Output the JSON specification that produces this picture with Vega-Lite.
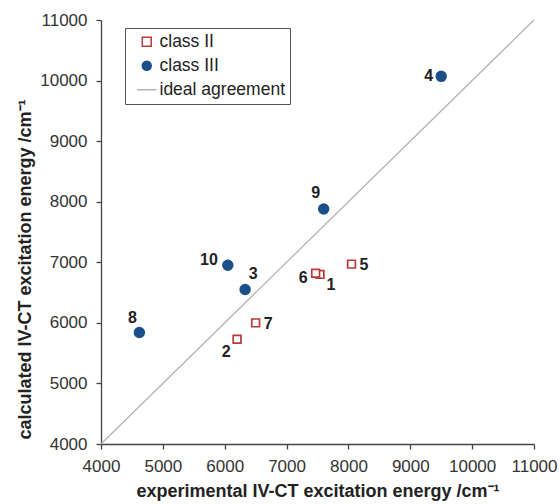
{
  "$schema": "https://vega.github.io/schema/vega-lite/v6.json",
  "width": 433,
  "height": 424,
  "autosize": {"type": "none"},
  "padding": {"left": 101, "top": 20, "right": 26, "bottom": 60},
  "background": "white",
  "config": {
    "view": {"stroke": null},
    "font": "Liberation Sans",
    "axis": {"grid": false, "domainColor": "#444", "tickColor": "#444", "labelColor": "#333", "titleColor": "#222", "labelFontSize": 17, "titleFontSize": 18, "titleFontWeight": "bold", "tickSize": 5, "domainWidth": 1.3, "tickWidth": 1.3, "labelFlush": false, "labelOverlap": false, "labelPadding": 9}
  },
  "datasets": {
    "pts": [
      {"id": "1", "series": "class II", "x": 7540, "y": 6800},
      {"id": "2", "series": "class II", "x": 6200, "y": 5730},
      {"id": "3", "series": "class III", "x": 6330, "y": 6550},
      {"id": "4", "series": "class III", "x": 9500, "y": 10070},
      {"id": "5", "series": "class II", "x": 8050, "y": 6970},
      {"id": "6", "series": "class II", "x": 7470, "y": 6820},
      {"id": "7", "series": "class II", "x": 6500, "y": 6000},
      {"id": "8", "series": "class III", "x": 4620, "y": 5840},
      {"id": "9", "series": "class III", "x": 7600, "y": 7880},
      {"id": "10", "series": "class III", "x": 6050, "y": 6950}
    ],
    "ideal": [
      {"x": 4000, "y": 4000},
      {"x": 11000, "y": 11000}
    ]
  },
  "layer": [
    {
      "data": {"name": "ideal"},
      "mark": {"type": "line", "color": "#b4b4b4", "strokeWidth": 1.3},
      "encoding": {
        "x": {"field": "x", "type": "quantitative", "scale": {"domain": [4000, 11000], "nice": false}, "axis": {"values": [4000,5000,6000,7000,8000,9000,10000,11000], "format": "d", "title": "experimental IV-CT excitation energy /cm⁻¹", "titleY": 52, "titleBaseline": "alphabetic"}},
        "y": {"field": "y", "type": "quantitative", "scale": {"domain": [4000, 11000], "nice": false}, "axis": {"values": [4000,5000,6000,7000,8000,9000,10000,11000], "format": "d", "title": "calculated IV-CT excitation energy  /cm⁻¹", "titleX": -76, "titleY": 249, "titleBaseline": "middle", "titleAlign": "center"}}
      }
    },
    {
      "data": {"name": "pts"},
      "mark": {"type": "point", "strokeWidth": 1.7, "opacity": 1},
      "encoding": {
        "x": {"field": "x", "type": "quantitative"},
        "y": {"field": "y", "type": "quantitative"},
        "shape": {"field": "series", "type": "nominal", "scale": {"domain": ["class II", "class III", "ideal agreement"], "range": ["square", "circle", "M-2.2,0H2.2"]}, "legend": {"title": null, "orient": "none", "legendX": 24, "legendY": 8, "strokeColor": "#555", "padding": 5, "labelFontSize": 17.5, "labelColor": "#222", "symbolSize": 80, "rowPadding": 5, "symbolStrokeWidth": 1.5, "labelOffset": 4, "symbolOffset": 8}},
        "fill": {"field": "series", "type": "nominal", "scale": {"domain": ["class II", "class III", "ideal agreement"], "range": ["white", "#1b4f8a", "transparent"]}},
        "stroke": {"field": "series", "type": "nominal", "scale": {"domain": ["class II", "class III", "ideal agreement"], "range": ["#b83a3a", "#1b4f8a", "#b4b4b4"]}},
        "size": {"condition": {"test": "datum.series === 'class III'", "value": 95}, "value": 60}
      }
    },
    {
      "data": {"name": "pts"},
      "transform": [{"filter": {"field": "id", "oneOf": ["4"]}}],
      "mark": {"type": "text", "align": "right", "baseline": "middle", "dx": -8, "dy": 0, "fontSize": 16, "fontWeight": "bold", "color": "#222"},
      "encoding": {"x": {"field": "x", "type": "quantitative"}, "y": {"field": "y", "type": "quantitative"}, "text": {"field": "id"}}
    },
    {
      "data": {"name": "pts"},
      "transform": [{"filter": {"field": "id", "oneOf": ["10"]}}],
      "mark": {"type": "text", "align": "right", "baseline": "middle", "dx": -10, "dy": -5, "fontSize": 16, "fontWeight": "bold", "color": "#222"},
      "encoding": {"x": {"field": "x", "type": "quantitative"}, "y": {"field": "y", "type": "quantitative"}, "text": {"field": "id"}}
    },
    {
      "data": {"name": "pts"},
      "transform": [{"filter": {"field": "id", "oneOf": ["6"]}}],
      "mark": {"type": "text", "align": "right", "baseline": "middle", "dx": -8, "dy": 5, "fontSize": 16, "fontWeight": "bold", "color": "#222"},
      "encoding": {"x": {"field": "x", "type": "quantitative"}, "y": {"field": "y", "type": "quantitative"}, "text": {"field": "id"}}
    },
    {
      "data": {"name": "pts"},
      "transform": [{"filter": {"field": "id", "oneOf": ["9"]}}],
      "mark": {"type": "text", "align": "center", "baseline": "middle", "dx": -8, "dy": -16, "fontSize": 16, "fontWeight": "bold", "color": "#222"},
      "encoding": {"x": {"field": "x", "type": "quantitative"}, "y": {"field": "y", "type": "quantitative"}, "text": {"field": "id"}}
    },
    {
      "data": {"name": "pts"},
      "transform": [{"filter": {"field": "id", "oneOf": ["8"]}}],
      "mark": {"type": "text", "align": "center", "baseline": "middle", "dx": -7, "dy": -15, "fontSize": 16, "fontWeight": "bold", "color": "#222"},
      "encoding": {"x": {"field": "x", "type": "quantitative"}, "y": {"field": "y", "type": "quantitative"}, "text": {"field": "id"}}
    },
    {
      "data": {"name": "pts"},
      "transform": [{"filter": {"field": "id", "oneOf": ["3"]}}],
      "mark": {"type": "text", "align": "center", "baseline": "middle", "dx": 8, "dy": -16, "fontSize": 16, "fontWeight": "bold", "color": "#222"},
      "encoding": {"x": {"field": "x", "type": "quantitative"}, "y": {"field": "y", "type": "quantitative"}, "text": {"field": "id"}}
    },
    {
      "data": {"name": "pts"},
      "transform": [{"filter": {"field": "id", "oneOf": ["1"]}}],
      "mark": {"type": "text", "align": "center", "baseline": "middle", "dx": 11, "dy": 11, "fontSize": 16, "fontWeight": "bold", "color": "#222"},
      "encoding": {"x": {"field": "x", "type": "quantitative"}, "y": {"field": "y", "type": "quantitative"}, "text": {"field": "id"}}
    },
    {
      "data": {"name": "pts"},
      "transform": [{"filter": {"field": "id", "oneOf": ["5", "7"]}}],
      "mark": {"type": "text", "align": "left", "baseline": "middle", "dx": 8, "dy": 1, "fontSize": 16, "fontWeight": "bold", "color": "#222"},
      "encoding": {"x": {"field": "x", "type": "quantitative"}, "y": {"field": "y", "type": "quantitative"}, "text": {"field": "id"}}
    },
    {
      "data": {"name": "pts"},
      "transform": [{"filter": {"field": "id", "oneOf": ["2"]}}],
      "mark": {"type": "text", "align": "center", "baseline": "middle", "dx": -11, "dy": 13, "fontSize": 16, "fontWeight": "bold", "color": "#222"},
      "encoding": {"x": {"field": "x", "type": "quantitative"}, "y": {"field": "y", "type": "quantitative"}, "text": {"field": "id"}}
    }
  ]
}
